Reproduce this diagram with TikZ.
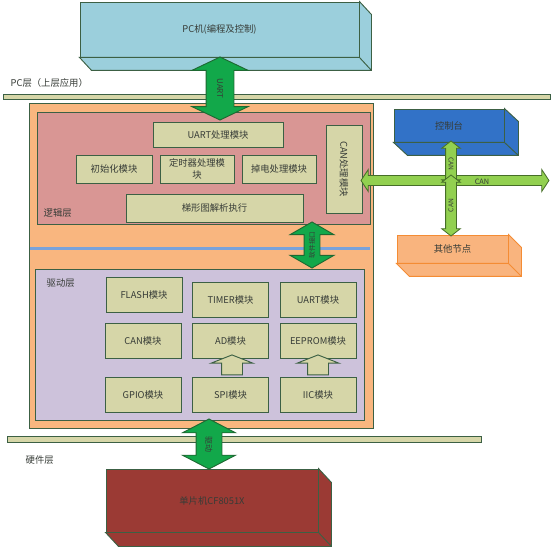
\documentclass[tikz,border=0pt]{standalone}
\usepackage{fontspec}
\setmainfont{Noto Sans CJK SC}
\usetikzlibrary{shapes,arrows,positioning}

\definecolor{txt}{RGB}{55,60,55}
\definecolor{edge}{RGB}{60,96,68}
\definecolor{beige}{RGB}{214,214,168}
\definecolor{pcblue}{RGB}{155,207,220}
\definecolor{layerorange}{RGB}{249,182,127}
\definecolor{logicpink}{RGB}{217,150,148}
\definecolor{drivelilac}{RGB}{205,194,219}
\definecolor{consoleblue}{RGB}{50,114,199}
\definecolor{nodeorange}{RGB}{249,180,126}
\definecolor{nodeedge}{RGB}{244,140,52}
\definecolor{mcured}{RGB}{155,58,52}
\definecolor{arrowgreen}{RGB}{18,168,74}
\definecolor{arrowedge}{RGB}{30,105,50}
\definecolor{cangreen}{RGB}{146,208,80}
\definecolor{canedge}{RGB}{70,110,40}
\definecolor{splitblue}{RGB}{122,162,218}

\begin{document}
\begin{tikzpicture}[
    x=0.75pt, y=-0.75pt,
    every node/.style={align=center, text=txt, font=\fontsize{7}{8.5}\selectfont}
]

% Define styles
\tikzstyle{layer} = [rectangle, draw=edge, line width=0.7pt, inner sep=0pt]
\tikzstyle{module} = [rectangle, draw=edge, line width=0.7pt, fill=beige, inner sep=1pt]
\tikzstyle{face} = [draw=edge, line width=0.7pt]
\tikzstyle{railbar} = [draw=edge, line width=0.7pt, fill=beige]
\tikzstyle{bigarrow} = [double arrow, draw=arrowedge, line width=0.7pt, fill=arrowgreen, inner sep=0pt]
\tikzstyle{canarrow} = [double arrow, draw=canedge, line width=0.6pt, fill=cangreen, inner sep=0pt]
\tikzstyle{uparrow} = [single arrow, draw=edge, line width=0.7pt, fill=beige, inner sep=0pt,
    rotate=90, minimum height=15pt, text height=15pt, text depth=0pt,
    single arrow head extend=7.9pt, single arrow tip angle=137]

\useasboundingbox (0,0) rectangle (554,549);

% PC layer
\node [layer, fill=pcblue, minimum width=209.25pt, minimum height=41.25pt] (pc) at (219.5,29.5) {PC机(编程及控制)};
\draw [face, fill=pcblue] (pc.south west) -- ++(12,13) -- ([shift={(12,13)}]pc.south east)
    -- ([shift={(12,13)}]pc.north east) -- (pc.north east) -- (pc.south east) -- cycle;
\draw [face] (pc.south east) -- ++(12,13);
\node [anchor=west] (pclabel) at (6,83) {PC层（上层应用）};
\draw [railbar] (3,94) rectangle (550,99);

% Control layer
\node [layer, fill=layerorange, minimum width=258pt, minimum height=243.75pt] (ctrl) at (201,265.5) {};
\node [layer, fill=logicpink, minimum width=249.75pt, minimum height=84pt] (logic) at (203.5,168) {};
\node [layer, fill=drivelilac, minimum width=246.75pt, minimum height=113.25pt] (driver) at (199.5,344.5) {};
\draw [splitblue, line width=2.25pt] (30,249) -- (370,249);
\node [anchor=west] (logiclabel) at (39,213) {逻辑层};
\node [anchor=west] (driverlabel) at (42,283) {驱动层};

% Logic modules
\node [module, minimum width=97.5pt, minimum height=18.75pt] (uartproc) at (218,134.5) {UART处理模块};
\node [module, minimum width=57pt, minimum height=21pt] (initmod) at (114,169) {初始化模块};
\node [module, minimum width=55.5pt, minimum height=21pt, inner sep=0pt] (timerproc) at (197,169) {定时器处理模\\块};
\node [module, minimum width=55.5pt, minimum height=21pt] (powerproc) at (279,169) {掉电处理模块};
\node [module, minimum width=132.75pt, minimum height=21pt] (ladder) at (214.5,208) {梯形图解析执行};
\node [module, minimum width=66pt, minimum height=27pt, rotate=-90] (canproc) at (344,169) {CAN处理模块};

% Driver modules
\node [module, minimum width=57pt, minimum height=26.25pt] (flash) at (144,295) {FLASH模块};
\node [module, minimum width=57pt, minimum height=26.25pt] (timer) at (230.5,299.5) {TIMER模块};
\node [module, minimum width=57pt, minimum height=26.25pt] (uart) at (318,299.5) {UART模块};
\node [module, minimum width=57pt, minimum height=26.25pt] (can) at (143,340.5) {CAN模块};
\node [module, minimum width=57pt, minimum height=26.25pt] (ad) at (230.5,340.5) {AD模块};
\node [module, minimum width=57pt, minimum height=26.25pt] (eeprom) at (318,340.5) {EEPROM模块};
\node [module, minimum width=57pt, minimum height=26.25pt] (gpio) at (143,395) {GPIO模块};
\node [module, minimum width=57pt, minimum height=26.25pt] (spi) at (230.5,395) {SPI模块};
\node [module, minimum width=57pt, minimum height=26.25pt] (iic) at (318,395) {IIC模块};

\node [uparrow] (spitoad) at (232,367) {};
\node [uparrow] (iictoeeprom) at (318,367) {};

% CAN network
\node [layer, fill=consoleblue, minimum width=82.5pt, minimum height=24.75pt] (console) at (449,125.5) {控制台};
\draw [face, fill=consoleblue] (console.south west) -- ++(14,13) -- ([shift={(14,13)}]console.south east)
    -- ([shift={(14,13)}]console.north east) -- (console.north east) -- (console.south east) -- cycle;
\draw [face] (console.south east) -- ++(14,13);
\node [rectangle, draw=nodeedge, line width=0.7pt, fill=nodeorange, inner sep=0pt,
    minimum width=83.25pt, minimum height=21pt] (others) at (452.5,249) {其他节点};
\draw [draw=nodeedge, line width=0.7pt, fill=nodeorange] (others.south west) -- ++(13,13) -- ([shift={(13,13)}]others.south east)
    -- ([shift={(13,13)}]others.north east) -- (others.north east) -- (others.south east) -- cycle;
\draw [draw=nodeedge, line width=0.7pt] (others.south east) -- ++(13,13);

\node [canarrow, minimum height=141pt, text height=7pt, text depth=0pt,
    double arrow head extend=4.4pt, double arrow tip angle=113] (canbus) at (455,180.5) {};
\node [font=\fontsize{5.5}{6}\selectfont] (canlabel) at (482,181.5) {CAN};
\node [canarrow, rotate=-90, minimum height=34.5pt, text height=5.55pt, text depth=1.95pt,
    double arrow head extend=3pt, double arrow tip angle=104,
    font=\fontsize{5}{5}\selectfont] (canup) at (451,164) {CAN};
\node [canarrow, rotate=90, minimum height=45.75pt, text height=5.55pt, text depth=1.95pt,
    double arrow head extend=3pt, double arrow tip angle=104,
    font=\fontsize{5}{5}\selectfont] (candown) at (451,205.5) {CAN};

% Hardware layer
\draw [railbar] (7,436) rectangle (481,442);
\node [anchor=west] (hwlabel) at (21,460) {硬件层};
\node [layer, fill=mcured, minimum width=159pt, minimum height=47.25pt] (mcu) at (212,500.5) {单片机CF8051X};
\draw [face, fill=mcured] (mcu.south west) -- ++(13,14) -- ([shift={(13,14)}]mcu.south east)
    -- ([shift={(13,14)}]mcu.north east) -- (mcu.north east) -- (mcu.south east) -- cycle;
\draw [face] (mcu.south east) -- ++(13,14);

% Interface arrows
\node [bigarrow, rotate=-90, minimum height=47.25pt, text height=12.3pt, text depth=7.95pt,
    double arrow head extend=10.5pt, double arrow tip angle=129,
    font=\fontsize{6}{6}\selectfont] (uartlink) at (220,88.5) {UART};
\node [bigarrow, rotate=90, minimum height=34.5pt, text height=7.5pt, text depth=3.75pt,
    double arrow head extend=10.5pt, double arrow tip angle=120,
    font=\fontsize{5}{5}\selectfont] (swlink) at (312,245) {软件接口};
\node [bigarrow, rotate=-90, minimum height=37.5pt, text height=11.7pt, text depth=7.05pt,
    double arrow head extend=10.1pt, double arrow tip angle=125,
    font=\fontsize{6}{6}\selectfont] (drvlink) at (209,444) {驱动};

\end{tikzpicture}
\end{document}
